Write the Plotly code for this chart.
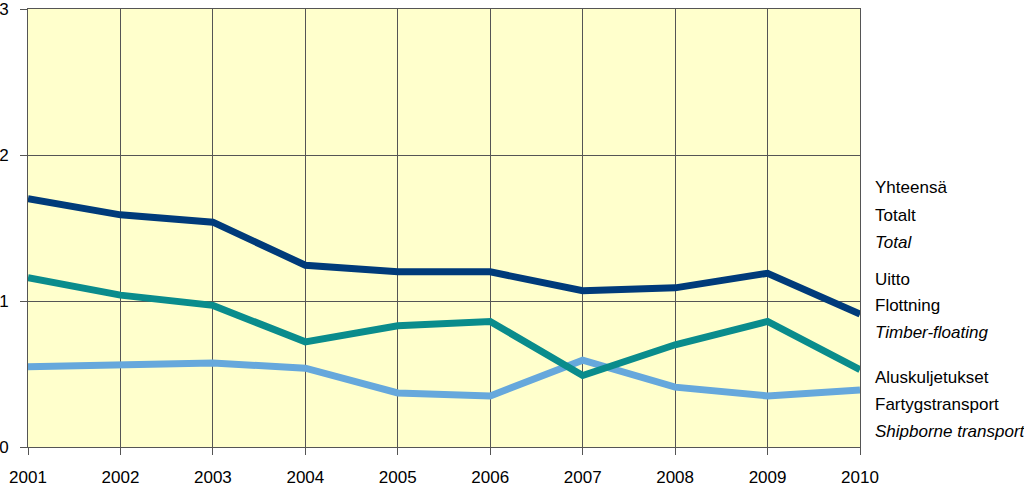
import plotly.graph_objects as go

# data
years = [2001, 2002, 2003, 2004, 2005, 2006, 2007, 2008, 2009, 2010]
total = [1.70, 1.59, 1.54, 1.245, 1.20, 1.20, 1.07, 1.09, 1.19, 0.91]
timber = [1.16, 1.04, 0.97, 0.72, 0.83, 0.86, 0.49, 0.70, 0.86, 0.53]
ship = [0.55, 0.56, 0.575, 0.54, 0.37, 0.35, 0.595, 0.41, 0.35, 0.39]

legend_groups = [
    ("Yhteensä", "Totalt", "Total"),
    ("Uitto", "Flottning", "Timber-floating"),
    ("Aluskuljetukset", "Fartygstransport", "Shipborne transport"),
]
legend_rows_px = [187, 215, 242, 279, 305, 332, 377, 404, 431]

W, H = 1024, 488
M_L, M_R, M_T, M_B = 28, 164, 9, 41
plot_h = H - M_T - M_B
plot_w = W - M_L - M_R

FONT = "Liberation Sans, Arial, sans-serif"

fig = go.Figure()
for vals, color in [(ship, "#66A8DC"), (timber, "#0A8C8C"), (total, "#003B7A")]:
    fig.add_trace(go.Scatter(x=years, y=vals, mode="lines",
                             line=dict(color=color, width=7),
                             showlegend=False, hoverinfo="skip"))

# legend text at right, as in the original
row = 0
for group in legend_groups:
    for i, txt in enumerate(group):
        y_px = legend_rows_px[row]
        label = f"<i>{txt}</i>" if i == 2 else txt
        fig.add_annotation(x=(873 - M_L) / plot_w, xref="paper",
                           y=(H - M_B - y_px) / plot_h, yref="paper",
                           text=label, showarrow=False,
                           xanchor="left", yanchor="middle",
                           font=dict(family=FONT, size=17, color="black"))
        row += 1

fig.update_layout(
    width=W, height=H,
    margin=dict(l=M_L, r=M_R, t=M_T, b=M_B, autoexpand=False),
    paper_bgcolor="white", plot_bgcolor="#FFFFCC",
    font=dict(family=FONT, size=17, color="black"),
)
fig.update_xaxes(range=[2001, 2010], tickvals=years, showgrid=True,
                 gridcolor="#555555", gridwidth=1, automargin=False,
                 showline=True, linecolor="#555555", linewidth=1, mirror=True,
                 ticks="outside", ticklen=7, tickcolor="#555555",
                 ticklabelstandoff=8, ticklabeloverflow="allow",
                 zeroline=False)
fig.update_yaxes(range=[0, 3], tickvals=[0, 1, 2, 3], showgrid=True,
                 gridcolor="#555555", gridwidth=1, automargin=False,
                 showline=True, linecolor="#555555", linewidth=1, mirror=True,
                 ticks="outside", ticklen=7, tickcolor="#555555",
                 ticklabelstandoff=8, ticklabeloverflow="allow",
                 zeroline=False)

# page body has an 8px default margin; drop it so the figure fills the window
fig.write_html("out.html", config={"displayModeBar": False},
               post_script="document.body.style.margin = '0';")
